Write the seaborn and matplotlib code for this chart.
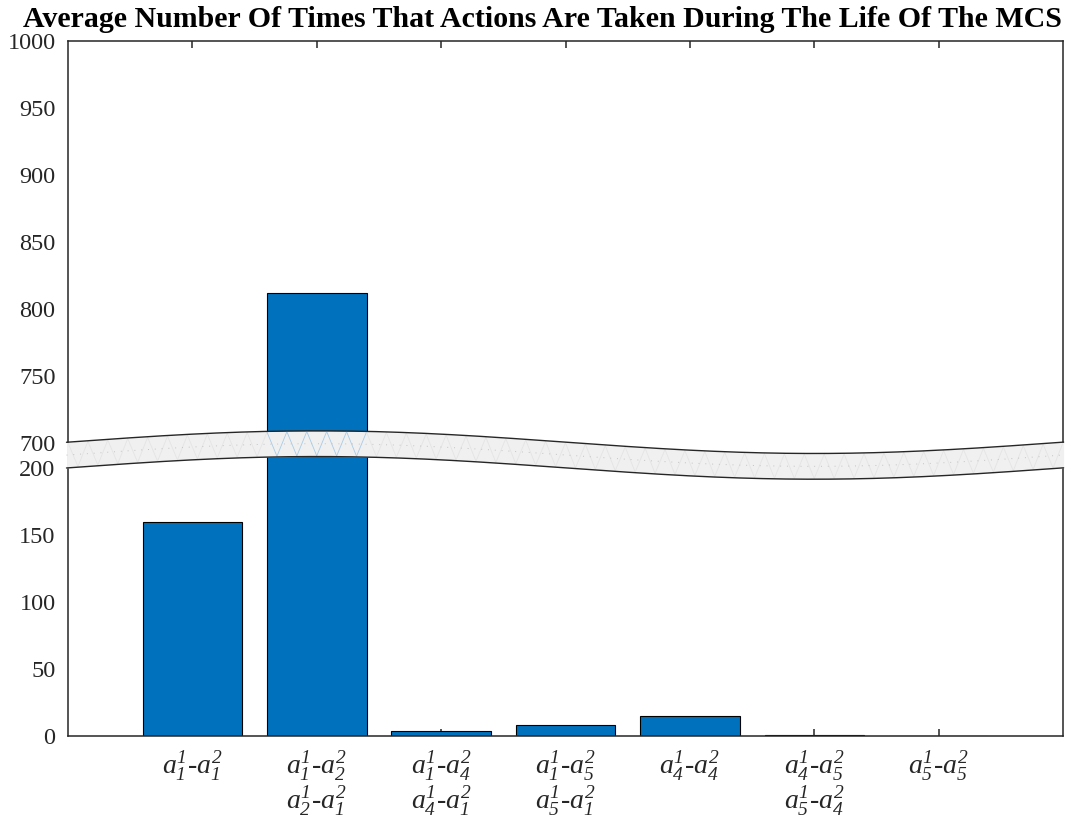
import numpy as np
import matplotlib
matplotlib.use("Agg")
import matplotlib.pyplot as plt
import matplotlib.transforms as mtransforms
import seaborn as sns

# ---- data -------------------------------------------------------------
action_pairs = [
    r"$a_{1}^{1}$-$a_{1}^{2}$",
    r"$a_{1}^{1}$-$a_{2}^{2}$" + "\n" + r"$a_{2}^{1}$-$a_{1}^{2}$",
    r"$a_{1}^{1}$-$a_{4}^{2}$" + "\n" + r"$a_{4}^{1}$-$a_{1}^{2}$",
    r"$a_{1}^{1}$-$a_{5}^{2}$" + "\n" + r"$a_{5}^{1}$-$a_{1}^{2}$",
    r"$a_{4}^{1}$-$a_{4}^{2}$",
    r"$a_{4}^{1}$-$a_{5}^{2}$" + "\n" + r"$a_{5}^{1}$-$a_{4}^{2}$",
    r"$a_{5}^{1}$-$a_{5}^{2}$",
]
avg_times = [160, 812, 4, 8, 15, 1, 0]

lower_ticks = [0, 50, 100, 150, 200]
upper_ticks = [700, 750, 800, 850, 900, 950, 1000]

title = "Average Number Of Times That Actions Are Taken During The Life Of The MCS"

# ---- broken y axis (200..700 squeezed into a narrow gap) --------------
BREAK_LO, BREAK_HI, GAP = 200.0, 700.0, 19.0


def fwd(v):
    v = np.asarray(v, dtype=float)
    return np.where(v <= BREAK_LO, v,
                    np.where(v >= BREAK_HI, v - (BREAK_HI - BREAK_LO) + GAP,
                             BREAK_LO + (v - BREAK_LO) * GAP / (BREAK_HI - BREAK_LO)))


def inv(p):
    p = np.asarray(p, dtype=float)
    return np.where(p <= BREAK_LO, p,
                    np.where(p >= BREAK_LO + GAP, p + (BREAK_HI - BREAK_LO) - GAP,
                             BREAK_LO + (p - BREAK_LO) * (BREAK_HI - BREAK_LO) / GAP))


# ---- style ------------------------------------------------------------
sns.set_style("white")
plt.rcParams["font.family"] = ["Liberation Serif", "DejaVu Serif"]
plt.rcParams["mathtext.fontset"] = "custom"
plt.rcParams["mathtext.it"] = "Liberation Serif:italic"
plt.rcParams["mathtext.rm"] = "Liberation Serif:italic"
plt.rcParams["mathtext.bf"] = "Liberation Serif:bold"

W, H = 1084, 827
fig = plt.figure(figsize=(W / 100, H / 100), dpi=100)
ax = fig.add_axes([68 / W, (H - 736) / H, 995 / W, 695 / H])

sns.barplot(x=list(range(len(avg_times))), y=avg_times, color="#0072BD",
            saturation=1, edgecolor="black", linewidth=0.8, width=0.8, ax=ax)

ax.set_yscale("function", functions=(fwd, inv))
ax.set_ylim(0, 1000)
ax.set_xlim(-1, len(avg_times))

yt = lower_ticks + upper_ticks
ax.set_yticks(yt)
ax.set_yticklabels([str(t) for t in yt], fontsize=17.5, color="#262626")
ax.set_xticks(range(len(action_pairs)))
ax.set_xticklabels(action_pairs, fontsize=20, fontstyle="italic",
                   color="#262626", linespacing=1.05)
ax.tick_params(axis="y", length=0, pad=9)
ax.tick_params(axis="x", which="both", direction="in", length=5, width=1.1,
               color="#262626", top=True, bottom=True, pad=10)
ax.set_xlabel("")
ax.set_ylabel("")

for s in ax.spines.values():
    s.set_visible(True)
    s.set_color("#262626")
    s.set_linewidth(1.1)

# ---- wavy break band --------------------------------------------------
trans = mtransforms.blended_transform_factory(ax.transData, ax.transAxes)
x0, x1 = ax.get_xlim()
xs = np.linspace(x0 - 0.012, x1 + 0.005, 600)
phase = 2 * np.pi * (xs - x0) / (x1 - x0)
centre = 0.4043 + 0.0163 * np.sin(phase)
half = 0.0185
top_c, bot_c = centre + half, centre - half
ax.fill_between(xs, bot_c, top_c, transform=trans, color="#f0f0f0",
                zorder=4, clip_on=False, linewidth=0)
ax.plot(xs, top_c, transform=trans, color="#262626", lw=1.0, zorder=5, clip_on=False)
ax.plot(xs, bot_c, transform=trans, color="#262626", lw=1.0, zorder=5, clip_on=False)
ax.plot(xs, centre, transform=trans, color="#c4c4c4", lw=0.7, ls=(0, (1, 6)),
        zorder=5, clip_on=False)

# faint hatch strokes inside the band, tinted where the tall bar crosses it
n_z = 100
zx = np.linspace(x0, x1, n_z + 1)
zc = 0.4043 + 0.0163 * np.sin(2 * np.pi * (zx - x0) / (x1 - x0))
tall = int(np.argmax(avg_times))
for i in range(n_z):
    ya = zc[i] + (half if i % 2 == 0 else -half) * 0.95
    yb = zc[i + 1] + (-half if i % 2 == 0 else half) * 0.95
    mid = 0.5 * (zx[i] + zx[i + 1])
    inside = abs(mid - tall) < 0.4
    ax.plot([zx[i], zx[i + 1]], [ya, yb], transform=trans,
            color="#a9cbe6" if inside else "#e4e4e4", lw=0.6, zorder=4.5)

fig.text(0.5, 1 - 27 / H, title, ha="center", va="baseline",
         fontsize=21.5, fontweight="bold", color="black")

fig.savefig("out.png", dpi=100, facecolor="white")
